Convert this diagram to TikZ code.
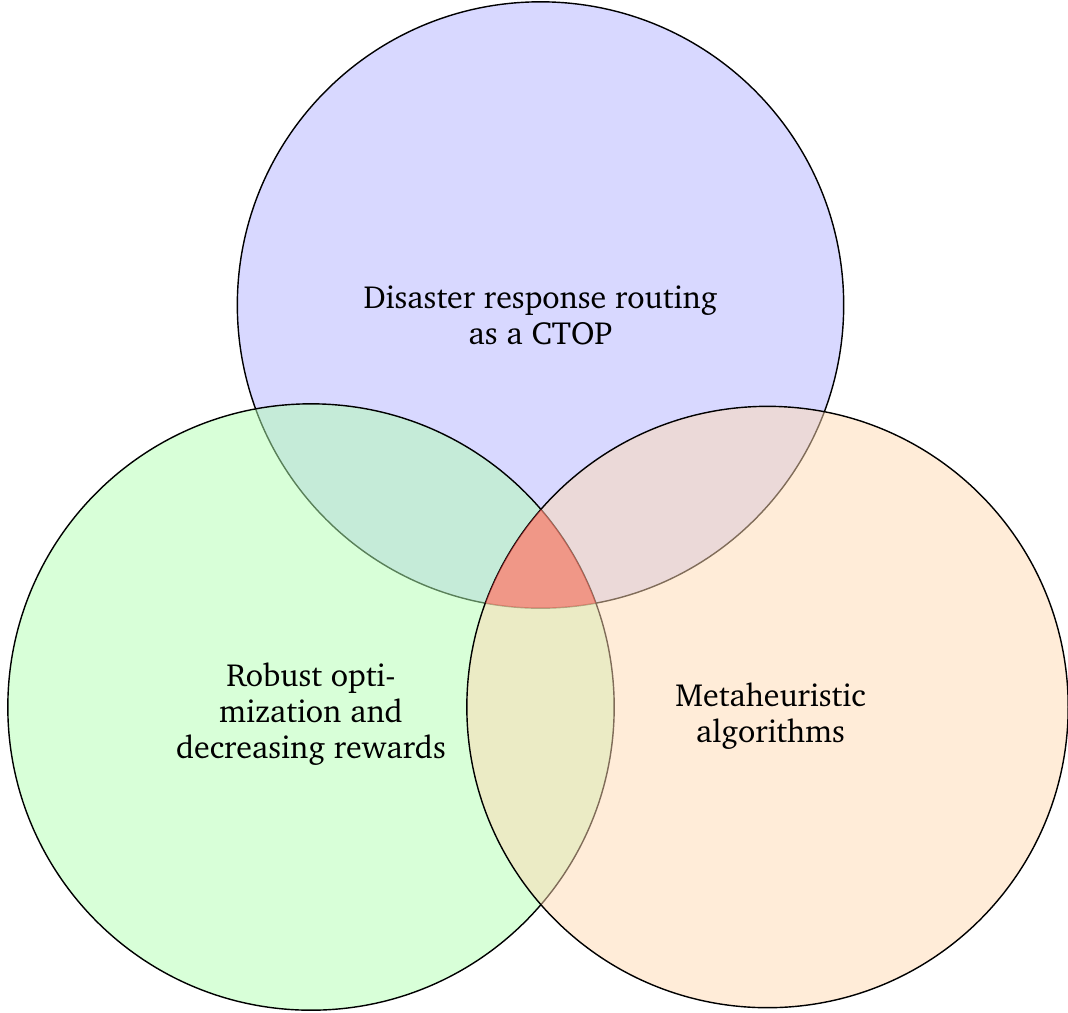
\documentclass[tikz,border=0pt]{standalone}
\usepackage[T1]{fontenc}
\renewcommand{\rmdefault}{bch}
\usepackage{tikz}
\usetikzlibrary{calc}

\tikzset{
  venn/.style={draw=black, line width=0.4pt, fill opacity=0.5},
  topic/.style={align=center, font=\fontsize{9.1}{10.2}\selectfont, text opacity=1}
}

\begin{document}
\begin{tikzpicture}[x=0.01cm, y=-0.01cm]
			\useasboundingbox (0,0) rectangle (1068,1012);
			\coordinate (D) at (540.5,305);
			\coordinate (R) at (311,707);
			\coordinate (M) at (767.5,707);
			\draw[venn, fill=blue!30] (D) circle (3.03cm);
			\draw[venn, fill=green!30] (R) circle (3.03cm);
			\draw[venn, fill=orange!30] (M) circle (3.005cm);
			% common part of the three
			\begin{scope}
				\clip (D) circle (3.03cm);
				\clip (R) circle (3.03cm);
				\fill[red!70, fill opacity=0.5] (M) circle (3.005cm);
			\end{scope}
			\node[topic] (ctop) at ($(D)+(0,10)$) {Disaster response routing\\as a CTOP};
			\node[topic] (robust) at ($(R)+(0,7)$) {Robust opti-\\mization and\\decreasing rewards};
			\node[topic] (meta) at ($(M)+(3,9)$) {Metaheuristic\\algorithms};
		\end{tikzpicture}
\end{document}
